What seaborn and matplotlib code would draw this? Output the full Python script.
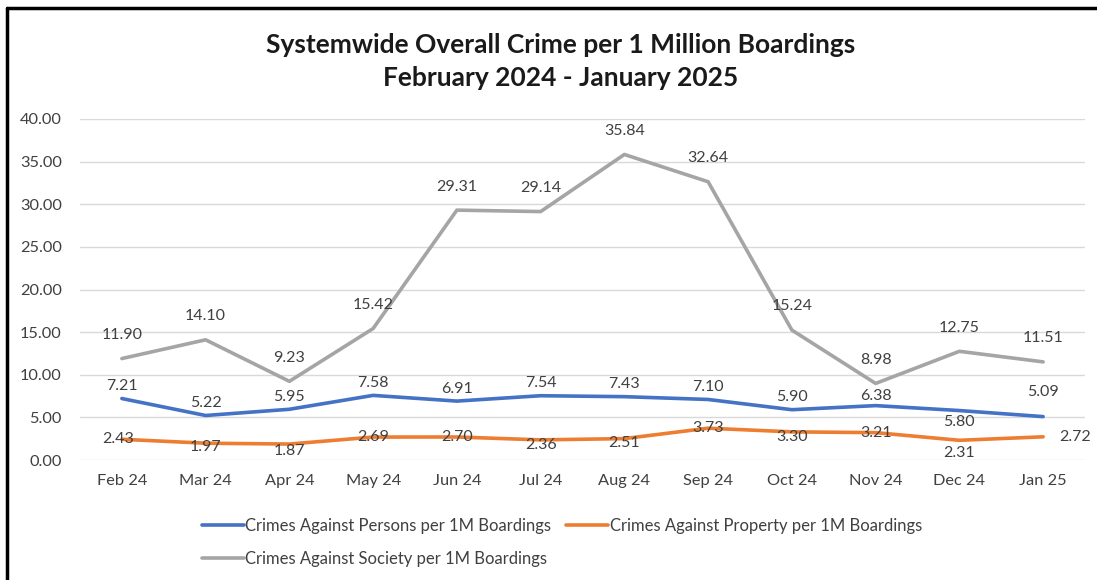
import numpy as np
import pandas as pd
import matplotlib
matplotlib.use("Agg")
import matplotlib.pyplot as plt
import seaborn as sns
from matplotlib.lines import Line2D

# data
months = ["Feb 24", "Mar 24", "Apr 24", "May 24", "Jun 24", "Jul 24",
          "Aug 24", "Sep 24", "Oct 24", "Nov 24", "Dec 24", "Jan 25"]
persons = [7.21, 5.22, 5.95, 7.58, 6.91, 7.54, 7.43, 7.10, 5.90, 6.38, 5.80, 5.09]
property_ = [2.43, 1.97, 1.87, 2.69, 2.70, 2.36, 2.51, 3.73, 3.30, 3.21, 2.31, 2.72]
society = [11.90, 14.10, 9.23, 15.42, 29.31, 29.14, 35.84, 32.64, 15.24, 8.98, 12.75, 11.51]

series_names = ["Crimes Against Persons per 1M Boardings",
                "Crimes Against Property per 1M Boardings",
                "Crimes Against Society per 1M Boardings"]
colors = ["#4472C4", "#ED7D31", "#A5A5A5"]

# label offsets (points) per point, (dx, dy)
persons_off = [(0, 9)] * 9 + [(0, 7), (0, -8), (0, 18)]
property_off = [(-3, 0), (0, -3), (0, -5), (0, 0), (0, 0), (0, -4),
                (0, -3), (0, 0), (0, -4), (0, 0), (0, -9), (23, 0)]
society_off = [(0, 17)] * 12

sns.set_style("white")
plt.rcParams["font.family"] = ["Lato", "DejaVu Sans"]

fig = plt.figure(figsize=(10.97, 5.80), dpi=100)
ax = fig.add_axes([80 / 1097, 1 - 460 / 580, 1005 / 1097, 341 / 580])

df = pd.DataFrame({"month": months, series_names[0]: persons,
                   series_names[1]: property_, series_names[2]: society})
long = df.melt(id_vars="month", var_name="series", value_name="value")

sns.lineplot(data=long, x="month", y="value", hue="series",
             hue_order=series_names, palette=colors, linewidth=2.6,
             ax=ax, legend=False, sort=False)

for vals, offs in [(society, society_off), (persons, persons_off), (property_, property_off)]:
    for i, (v, (dx, dy)) in enumerate(zip(vals, offs)):
        ax.annotate(f"{v:.2f}", (i, v), xytext=(dx, dy), textcoords="offset points",
                    ha="center", va="center", fontsize=11.5, color="#404040")

ax.set_xlim(-0.5, 11.5)
ax.set_ylim(0, 40)
ax.set_yticks(np.arange(0, 41, 5))
ax.set_yticklabels([f"{t:.2f}" for t in np.arange(0, 41, 5)])
ax.grid(axis="y", color="#D9D9D9", linewidth=1)
ax.set_axisbelow(True)
for s in ax.spines.values():
    s.set_visible(False)
ax.tick_params(axis="both", length=0, labelsize=11.8, labelcolor="#404040")
ax.tick_params(axis="y", pad=13)
ax.tick_params(axis="x", pad=10)
ax.set_xlabel("")
ax.set_ylabel("")

fig.text(0.511, 1 - 45 / 580, "Systemwide Overall Crime per 1 Million Boardings",
         ha="center", va="center", fontsize=19, fontweight="bold", color="#1a1a1a")
fig.text(0.511, 1 - 78 / 580, "February 2024 - January 2025",
         ha="center", va="center", fontsize=19, fontweight="bold", color="#1a1a1a")

handles = [Line2D([], [], color=c, linewidth=2.6) for c in colors]
order = [0, 2, 1]
fig.legend([handles[i] for i in order], [series_names[i] for i in order],
           ncol=2, loc="upper left", bbox_to_anchor=(187 / 1097, 1 - 503 / 580),
           frameon=False, fontsize=12, handlelength=2.5, handletextpad=0.1,
           columnspacing=0.9, labelspacing=1.0, labelcolor="#404040")

# chart frame (top and left edges visible in the crop)
fig.add_artist(Line2D([7 / 1097, 1], [1 - 8 / 580, 1 - 8 / 580], color="black", linewidth=2.5))
fig.add_artist(Line2D([7 / 1097, 7 / 1097], [0, 1 - 8 / 580], color="black", linewidth=2.5))

fig.savefig("out.png", dpi=100)
